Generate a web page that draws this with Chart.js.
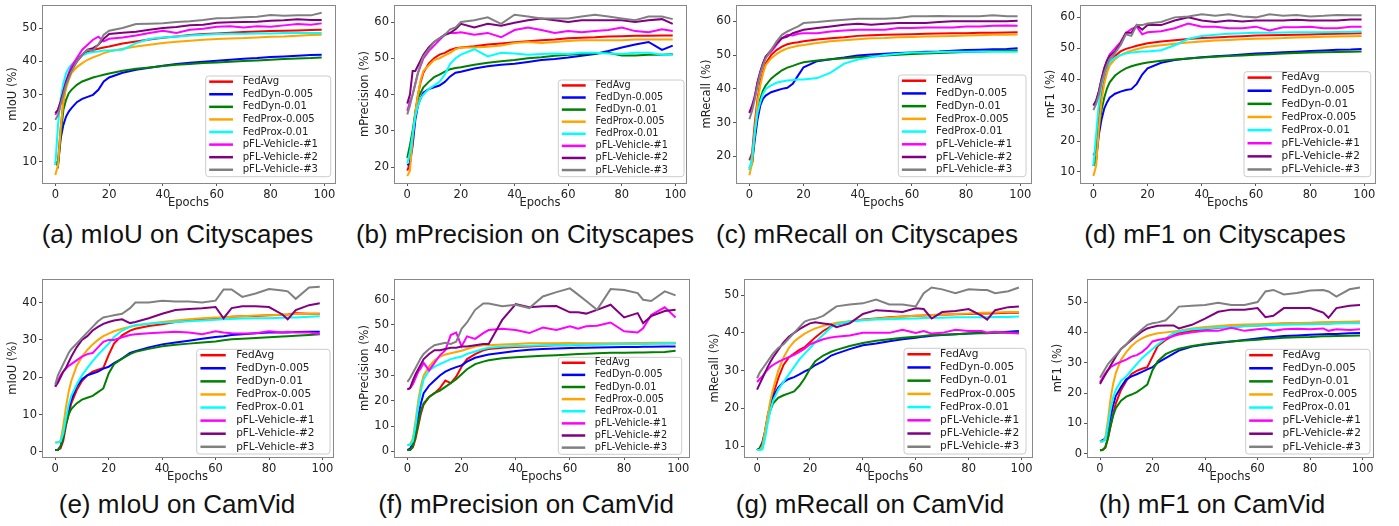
<!DOCTYPE html>
<html>
<head>
<meta charset="utf-8">
<script src="https://cdn.jsdelivr.net/npm/chart.js@4.4.0/dist/chart.umd.min.js"></script>
<style>
body { margin: 0; background: #fff; width: 1399px; height: 526px; overflow: hidden; position: relative; }
canvas { position: absolute; }
.cap { position: absolute; width: 420px; text-align: center; font-family: "Liberation Sans", Arial, sans-serif;
       font-size: 26px; line-height: 30px; color: #111; white-space: nowrap; }
</style>
</head>
<body>
<script>
// ---- data ----
const SERIES = ['FedAvg', 'FedDyn-0.005', 'FedDyn-0.01', 'FedProx-0.005', 'FedProx-0.01',
                'pFL-Vehicle-#1', 'pFL-Vehicle-#2', 'pFL-Vehicle-#3'];

const EPOCHS_CS = [0,1,2,3,4,5,6,8,10,12,14,16,18,20,25,30,35,40,45,50,55,60,65,70,75,80,85,90,95,99];
const EPOCHS_CV = [0,1,2,3,4,5,6,8,10,12,14,16,18,20,22,25,28,30,35,40,45,50,55,60,63,66,70,75,80,85,87,90,95,99];

const X_TICKS = [0, 20, 40, 60, 80, 100];
const Y_TICKS_A = [10, 20, 30, 40, 50];
const Y_TICKS_B = [20, 30, 40, 50, 60];
const Y_TICKS_C = [20, 30, 40, 50, 60];
const Y_TICKS_D = [10, 20, 30, 40, 50, 60];
const Y_TICKS_E = [0, 10, 20, 30, 40];
const Y_TICKS_F = [0, 10, 20, 30, 40, 50, 60];
const Y_TICKS_G = [10, 20, 30, 40, 50];
const Y_TICKS_H = [0, 10, 20, 30, 40, 50];

// (a) mIoU, Cityscapes  (rows follow SERIES)
const MIOU_CS = [
  [9,10,20,28,33,36,38,40,42,43,43.4,43.8,44.2,44.5,45.4,46,46.6,47.1,47.5,47.9,48.2,48.4,48.6,48.8,49,49.1,49.2,49.3,49.4,49.5],
  [10,9,17,21,23.5,25,26,27.8,28.8,29.4,30,31.5,34,35.2,36.6,37.5,38.1,38.7,39.2,39.6,39.9,40.2,40.5,40.8,41,41.3,41.5,41.7,41.9,42],
  [10,8.7,18,25.5,28.5,30.5,31.5,33,34,34.6,35.2,35.6,36,36.4,37.2,37.8,38.2,38.6,39,39.2,39.5,39.7,39.9,40.1,40.3,40.5,40.7,40.9,41,41.2],
  [6,9,20,28,32,34.5,36.5,38.3,39.5,40.5,41.2,41.8,42.5,43,43.8,44.5,45,45.5,45.9,46.2,46.5,46.7,46.9,47,47.2,47.4,47.5,47.7,47.9,48],
  [9,21,29,33.5,36.5,38,39,40.5,41.8,42.5,42.8,43,43.3,43.3,43.5,45.5,46.7,47.2,47.5,47.8,48,48.2,48.3,48.3,48.4,48.4,48.5,48.5,48.5,48.5],
  [24,25.5,28,31,34,36.5,38.5,41,43.5,45,46.5,47.4,46,46.8,47.2,47.8,48.5,49.2,48.5,49.5,49.8,50.4,50.5,50.2,50.5,50.4,50.8,51.2,51,51.4],
  [24.5,25.5,28,31,34,36,37.5,40,42,43.5,44,45,46.8,48.2,48.6,48.9,49.5,50,50.3,50.8,51,51.6,51.7,51.8,51.9,52.2,52.3,52.6,52.4,52.4],
  [22.5,24,27,30,33,35,37,40,42,43.5,43.2,45,48,49.2,50,51.2,51.3,51.4,51.8,52,52.4,52.9,53,53.2,53.4,53.9,53.7,53.8,53.8,54.6]
];

// (b) mPrecision, Cityscapes
const MPREC_CS = [
  [19,21,28,35,40,43.5,46,48.5,50,51,51.5,52.3,52.8,53,53.3,53.8,54.1,54.4,54.7,55,55.2,55.5,55.7,55.8,56,56.1,56.2,56.2,56.3,56.3],
  [20.5,21,26,33,37,39,40.5,41.5,42,42.5,43.5,45,46,46.3,47.2,47.8,48.2,48.5,49,49.5,49.8,50.2,50.7,51.2,52,53,53.8,54.5,52.3,53.5],
  [22.5,26,30,35,39,40.5,42,43.5,44.8,45.5,46.3,47,47.3,47.5,48.2,48.8,49.2,49.5,50,50.3,50.7,51,51.2,51.3,51.5,50.8,50.8,51,51,51.1],
  [17.5,19,28,35,40,44,46.5,48,49.5,50,50.8,51.5,52.5,53,53,53.2,53.5,54.2,54.5,54.2,54.5,54.8,55,55,55,55,55.2,55.2,55.2,55.2],
  [21,24,29,34,37,39,40,41.5,42.5,43.5,45.5,48.5,50,51,52.5,50.5,51.5,51.3,51,51.2,51.3,51.2,51.5,51.5,51.3,51.2,51.5,51.5,51,51],
  [35.5,38,40,43,46,48,50,52,53.5,55,56.5,57,57,57.2,56.5,57,55.8,57.8,58.5,57.8,57,57.5,57.2,57.5,57.8,58.5,57.5,57.2,58,57.5],
  [37.5,40,46.5,46.5,48,49.5,51,53,54.5,55.5,56.5,57,58,59.5,58.5,59.5,59,59.8,60.5,61,60.5,60,60.5,60.5,60.5,60.5,60,60.5,60.8,59.5],
  [34.5,37,40,43,46,48.5,50.5,52.5,54.5,55.5,56.5,58,58.5,60,60.5,61.3,59.5,62,61.5,61,61,61,61.5,62,61.5,61,60.5,61.5,61.5,60.8]
];

// (c) mRecall, Cityscapes
const MREC_CS = [
  [18.8,21,30,37,42,45,47.5,50,51.5,52.5,53.2,53.6,53.8,54.1,54.6,55,55.3,55.7,55.9,56,56.1,56.2,56.3,56.4,56.5,56.5,56.6,56.6,56.7,56.8],
  [16.5,18,25,31,35,37,38,39,39.5,40,40.3,41.5,44,46.4,48.2,48.8,49.3,49.9,50.2,50.4,50.6,50.8,51,51.1,51.3,51.5,51.6,51.7,51.8,52],
  [16,18,27,33,37,39.5,41,43,44.3,45.5,46.3,46.8,47.4,47.9,48.4,48.8,49.1,49.4,49.6,49.9,50.1,50.3,50.5,50.6,50.8,50.9,51,51.2,51.3,51.4],
  [14.4,18,28,36,41,44.5,47,49,50.3,51.3,52,52.4,52.8,53,53.6,54.1,54.4,54.7,55,55.1,55.3,55.4,55.5,55.6,55.7,55.8,55.9,56,56,56.1],
  [16,20,27,33,36,38.5,40,41,41.8,42.2,42.5,42.6,42.8,42.8,43.2,44.8,47.5,48.7,49.4,50,50.4,50.8,50.8,50.9,51,51,51,51,51,51],
  [33,35,38,42,45,47.5,49.5,51,53,55,56,55.8,56.3,56.5,56.5,57,57.3,57.5,57.5,57.5,58,58,58.2,58.2,58.2,58.5,58.5,58.7,58.8,58.7],
  [32.8,35,37.5,42,45,47.5,49.5,51.5,53.5,55,55.5,56.5,57,57.5,58,58.5,59,59.3,59,59.3,59.5,59.5,59.5,59.8,60,60,60,60,60,60.2],
  [31,33.5,37,41,44.5,47,49,51.5,54,56,57,57.8,58.5,59.5,59.8,60.2,60.5,60.8,60.8,60.8,61,61.5,61.5,61.6,61.5,61.5,61.5,61.8,61.5,61.5]
];

// (d) mF1, Cityscapes
const MF1_CS = [
  [15.4,17,27,35,40,43.5,45.5,47.5,49,49.8,50.3,50.8,51.2,51.6,52.2,52.6,53,53.3,53.5,53.7,53.9,54.1,54.2,54.3,54.4,54.5,54.6,54.7,54.8,54.9],
  [12,14,22,27,30.5,32.5,34,35.3,36,36.5,36.8,38.5,41.5,43.5,45.3,46.2,46.7,47.1,47.4,47.7,48,48.3,48.5,48.7,48.9,49.1,49.3,49.5,49.6,49.8],
  [12,14,24,30,34,37,39,41.2,42.5,43.5,44.2,44.7,45.1,45.4,46,46.4,46.7,47,47.3,47.5,47.7,47.9,48.1,48.3,48.5,48.6,48.7,48.8,48.9,49],
  [8.7,12,24,33,38.5,42,44.5,46.5,47.8,48.6,49.2,49.7,50.2,50.5,51,51.5,51.9,52.2,52.5,52.7,52.9,53.1,53.2,53.3,53.5,53.6,53.7,53.8,53.9,54],
  [12,22,32,38,41.5,44,45.5,47,47.8,48.3,48.6,48.8,49,49,49.4,51,53,54,54.4,54.7,54.9,55,55,55.1,55.2,55.2,55.2,55.3,55.3,55.4],
  [31.5,33,36,40,43.5,46,48,50,52,55,56.2,57,54.5,55.2,55.5,56.5,58,57,57,56.5,56.5,57,55.8,56.8,56.8,57,56.5,56.5,57,57],
  [31.5,33,36,40,43.5,46,47.5,49,51.5,55,55,57.5,56,57.5,57.5,59,60,59,58.5,59,58.7,59,59,59,59.2,59,59,59,59.3,59.3],
  [30,32,35,39,42,44.5,46.5,48.5,51,54.5,54,57.5,57.5,58,58.5,60,60.3,61,60.5,61,60.3,60,61,60.5,60.8,60.3,60.5,60.8,60.7,60.7]
];

// (e) mIoU, CamVid
const MIOU_CV = [
  [0.5,0.6,1,3,7,10,13,16.5,19,20.5,21.5,22,22.5,26,29,31.2,32.5,33,33.7,34.2,34.8,35.2,35.6,35.8,36,36.2,36.3,36.4,36.6,36.7,36.8,37.1,37,37],
  [0.5,0.5,1.5,4,8,11.5,14,17.5,19.5,20.5,21,21.5,22.3,22.8,23.8,25,26.5,27,28,28.8,29.3,29.8,30.3,30.8,31,31.3,31.5,31.8,32,32,32,32.1,32.2,32.2],
  [0.5,0.5,1.5,4,7.5,10,11.5,13,14,14.5,15,16,17,21,23.5,25,26.2,26.8,27.6,28.3,28.7,29,29.3,29.6,29.9,30.2,30.3,30.5,30.7,30.9,31,31.1,31.3,31.5],
  [2.5,2.6,3,7,12,16,19,23,25.5,27.3,28.8,30,31,31.7,32.3,33,33.5,33.8,34.3,34.8,35.2,35.5,35.8,36,36,36.2,36.3,36.5,36.6,36.7,36.8,36.9,37,37],
  [2.5,2.5,2.8,5,9,12.5,15,18,20.5,22.5,24.3,26,27.5,29,30.8,32.5,33.5,34,34.3,34.6,34.8,35,35.2,35.4,35.5,35.6,35.7,35.8,35.8,35.9,36,36,36.2,36.3],
  [17.5,19,20.5,21.5,22.3,23,23.5,24.5,25.5,26.2,26.5,28,29.5,30,30,30.7,31.3,31.5,31.8,32,32.2,32,31.5,32.3,32,31.8,31.7,31.8,32.3,32,32.2,32,32,31.6],
  [17.5,18.5,20,21.5,22.5,24,25.5,28,30,31,32.5,33.5,34.3,34.8,35.2,35.5,34.5,34.8,35.8,37,38,38.3,38.5,38.8,35.8,38.5,39,39,38.8,36.8,35.5,38,39.3,39.8],
  [18,20.5,22,23.5,25,26.5,27.5,29,30.5,32,33.5,35,36,36.3,36.6,37,38.5,40,40,40.5,40.3,40.3,40,40.5,43.5,43.5,41.5,42.4,43.6,43.2,43,41,44,44.2]
];

// (f) mPrecision, CamVid
const MPREC_CV = [
  [0.5,0.6,1.5,5,10,15,18.5,21.5,23,25,28,27,29.5,33.5,36.5,38.5,40,40.5,41,41.3,41.5,41.8,42,42,42.2,42.3,42.4,42.5,42.6,42.7,42.7,42.8,42.8,42.8],
  [0.5,1,3,8,14,19,23,26,28,30,31.5,32.5,33.3,34,35.5,37,37.8,38.3,39,39.7,40.2,40.5,40.7,40.9,41,41,41.1,41.2,41.3,41.3,41.4,41.4,41.5,41.5],
  [0.5,0.5,2,6,11,16,19,21.5,23,24,25.5,27,28.5,30.5,32.5,34.5,35.5,36,36.8,37.2,37.5,37.8,38,38.3,38.5,38.6,38.8,39,39,39.1,39.1,39.2,39.3,39.8],
  [2.5,2.8,5,12,20,26,30,33.5,36,37.5,38.3,38.8,39.3,39.8,40.5,41.5,42,42,42.3,42.5,42.8,42.8,42.8,42.9,42.8,42.8,42.8,42.8,42.8,42.9,42.9,43,43,43],
  [2.5,2.5,4,10,18,24,28.5,32,33.5,34.5,35.5,36.5,37,37.5,38.5,39.5,40.5,41,41.5,41.7,41.8,42,42,42.1,42.2,42.2,42.3,42.4,42.5,42.5,42.5,42.6,42.7,42.8],
  [24.5,25,26.5,29,31.5,33,35,32,35,38,40,46,47,41.5,45.5,44.5,46.8,48,48.5,48,46.8,49,48,49.5,48.5,49.5,49.7,51,47.5,47,48.7,54,57,53],
  [24.5,25,28,30.5,32.5,34.5,36.5,38.5,40,40,40.5,41,41,41.5,41.5,42,42.5,42.5,52,58.3,57,57.4,57.5,55,55,54.5,56,58,53,54.7,50.7,53.5,55.5,56],
  [27.5,29,31,33,35,37,38.5,40.5,42,42.5,43,42.5,43.4,48.5,51,56,58.5,58.5,57.4,58,56.7,61.3,63,64.5,62,59.5,56,64.2,63.8,62.6,60,59.5,63.3,61.7]
];

// (g) mRecall, CamVid
const MREC_CV = [
  [9,9,9.5,13,17,20.5,23.5,28,31.5,33.5,34.5,35.5,36.2,37.5,38.8,40.5,41.7,42.3,43,43.5,43.8,44.1,44.3,44.5,44.6,44.7,44.8,44.9,45,45.1,45.1,45.2,45.3,45.3],
  [9,9.5,11,14,18,21,23,25.5,27,27.8,28.3,29,29.8,30.5,31.5,32.5,34,34.5,35.7,36.7,37.2,37.8,38.3,38.7,39,39.2,39.4,39.6,39.8,40,40,40.1,40.3,40.5],
  [9,9.5,10.5,13.5,17,19.5,21.3,22.8,23.5,24,24.5,26,28,30.5,32.5,34,35,35.5,36.5,37.3,37.9,38.3,38.7,39,39.2,39.4,39.5,39.6,39.8,39.9,39.9,40,40,40.1],
  [9,9,10,14,18,22,25,30,33.5,36,37.7,38.8,39.8,40.5,41.2,41.8,42.3,42.7,43.1,43.4,43.7,44,44.3,44.5,44.6,44.7,44.8,45,45.1,45.3,45.3,45.4,45.5,45.5],
  [9,9,9.2,12,16,19.5,22,25,27,29,31,33,34.5,36,37.5,39.5,41.5,42.3,43,43.3,43.5,43.6,43.7,43.8,43.9,44,44,44.1,44.1,44.1,44.1,44.2,44.2,44.3],
  [27,27.8,28.5,29.5,30.3,31,31.5,32.3,33,33.6,34.2,35,35.8,37,37.5,38.3,38.8,39,39.3,40,40,40,40.8,40,40.5,39.8,40,40.8,40.5,40.5,40,40.3,40,39.8],
  [25,26.5,28,29.5,31,32.3,33.5,35.5,37.5,39,40,41,41.8,42.5,42.8,42.5,42.2,41.5,42.5,45,46,45.8,45.5,46.5,46.3,43.8,45.5,45.8,46.3,44.5,43.5,46,46.8,47],
  [28,29.5,30.5,31.5,32.5,33.5,34.5,36,37,38.5,40,41.5,43,43.5,43.7,44.5,46,47,47.5,47.8,48.8,47.5,47.5,47,50.5,52,51.5,50.5,51.5,51.3,51.3,50.5,51,52]
];

// (h) mF1, CamVid
const MF1_CV = [
  [1.2,1.3,2,5,9,13,16.5,21,24,26.3,27.3,28,28.5,32,35.5,37.5,39,39.8,40.5,41,41.5,41.8,42.1,42.3,42.5,42.7,42.9,43,43.1,43.2,43.2,43.4,43.4,43.5],
  [4,4.5,5,8,12,16,19,22,24.5,25.5,26.2,27,27.8,28.5,30,31.5,33,34,35.3,36,36.5,37,37.5,38,38.3,38.5,38.8,39,39.2,39.4,39.5,39.5,39.7,39.8],
  [1,1.2,2,5,9,12.5,15,17.5,18.8,19.5,20.3,21.5,22.8,27.5,30.5,32.8,34,34.6,35.5,36.2,36.7,37,37.3,37.6,37.8,38,38.2,38.4,38.5,38.7,38.7,38.8,38.9,39],
  [4,4,5,11,18,23,26.5,31,33.5,35.5,37,38,38.8,39.3,39.7,40,40.3,40.5,41.3,41.8,42.1,42.4,42.6,42.7,42.8,42.9,43,43.1,43.2,43.3,43.3,43.4,43.5,43.5],
  [4,4,4.5,9,14.5,18.5,21,24,25.5,27.5,29.5,31.5,33,34.5,36,38,39.8,40.3,41,41.3,41.6,41.8,42,42.2,42.3,42.4,42.5,42.6,42.7,42.8,42.8,42.9,43,43],
  [23.5,25,26.5,27.5,28.5,29,29.5,30.3,31,32,32.5,33.5,35,37,37.5,38,38.8,39.3,40,40.5,40.5,41.5,40.5,41,41.3,40.5,41,41.2,41,41.3,40.5,41,40.8,41],
  [23,24.5,26,27.5,29,30.5,32,34.5,36,37.5,39,40.3,41.3,41.8,42.2,42.3,42.3,41.3,42.5,44.5,46.8,47.5,47.5,48,45,45.5,48,48,48,46.5,44.8,48,48.8,49],
  [25,26.5,28,29.5,30.5,31.5,32.5,34.5,36,38,39.5,41,42.5,43,43.3,44,46.5,48.5,48.8,49,49.8,49,49,50,53.5,54,52.5,53,53.8,54,53.5,51.8,54.2,54.8]
];

// ---- styles / layout ----
const COLORS = ['#ff0000', '#0000ff', '#008000', '#ffa500', '#00ffff', '#ff00ff', '#800080', '#808080'];
const AXIS_W = 36, AXIS_H = 27;
const PAD = { l: 2, r: 12, t: 10, b: 2 };

Chart.defaults.font.family = "'DejaVu Sans', sans-serif";
Chart.defaults.font.size = 11.5;
Chart.defaults.color = '#222';

const PANELS = [
  { rows: MIOU_CS,  epochs: EPOCHS_CS, yTitle: 'mIoU (%)',       yTicks: Y_TICKS_A, yRange: [3.6, 56.9],   box: [42, 5, 335, 183],    legend: [205.7, 76, 125, 100.7],    caption: '(a) mIoU on Cityscapes',       cap: [177.5, 234] },
  { rows: MPREC_CS, epochs: EPOCHS_CS, yTitle: 'mPrecision (%)', yTicks: Y_TICKS_B, yRange: [15.6, 64.7],  box: [394, 5, 686, 183],   legend: [558.3, 80, 125.7, 96.7],   caption: '(b) mPrecision on Cityscapes', cap: [525, 234] },
  { rows: MREC_CS,  epochs: EPOCHS_CS, yTitle: 'mRecall (%)',    yTicks: Y_TICKS_C, yRange: [12.1, 64.85], box: [736, 5, 1031, 183],  legend: [898.3, 75, 127.7, 101.7],  caption: '(c) mRecall on Cityscapes',    cap: [867, 234] },
  { rows: MF1_CS,   epochs: EPOCHS_CS, yTitle: 'mF1 (%)',        yTicks: Y_TICKS_D, yRange: [6.44, 64],    box: [1080, 5, 1375, 183], legend: [1244, 71.7, 126.7, 105],   caption: '(d) mF1 on Cityscapes',        cap: [1215, 234] },
  { rows: MIOU_CV,  epochs: EPOCHS_CV, yTitle: 'mIoU (%)',       yTicks: Y_TICKS_E, yRange: [-1.35, 46.3], box: [42, 279, 333, 457],  legend: [196.7, 349.3, 133.3, 104.7], caption: '(e) mIoU on CamVid',        cap: [177, 504] },
  { rows: MPREC_CV, epochs: EPOCHS_CV, yTitle: 'mPrecision (%)', yTicks: Y_TICKS_F, yRange: [-2.26, 68.2], box: [394, 279, 689, 457], legend: [558.3, 357.3, 123.4, 97],  caption: '(f) mPrecision on CamVid',      cap: [526, 504] },
  { rows: MREC_CV,  epochs: EPOCHS_CV, yTitle: 'mRecall (%)',    yTicks: Y_TICKS_G, yRange: [7.17, 54.24], box: [744, 279, 1032, 457], legend: [904, 348.3, 122, 105.7],  caption: '(g) mRecall on CamVid',         cap: [870, 504] },
  { rows: MF1_CV,   epochs: EPOCHS_CV, yTitle: 'mF1 (%)',        yTicks: Y_TICKS_H, yRange: [-1.1, 57.6],  box: [1087, 279, 1373, 457], legend: [1245.7, 349.3, 124.3, 104.7], caption: '(h) mF1 on CamVid',     cap: [1212, 504] }
];

// full axes frame, like matplotlib spines
const frame = {
  id: 'frame',
  afterDatasetsDraw(chart) {
    const { ctx, chartArea: a } = chart;
    ctx.save();
    ctx.strokeStyle = '#888';
    ctx.lineWidth = 1;
    ctx.strokeRect(Math.round(a.left) + 0.5, Math.round(a.top) + 0.5,
                   Math.round(a.right - a.left), Math.round(a.bottom - a.top));
    ctx.restore();
  }
};

// legend inside the axes, lower right
const boxLegend = {
  id: 'boxLegend',
  afterDraw(chart, args, opts) {
    const { ctx } = chart;
    const [x, y, w, h] = opts.rect;
    const fs = h / 10;
    const row = h / 8;
    ctx.save();
    ctx.beginPath();
    ctx.roundRect(x, y, w, h, 3);
    ctx.fillStyle = 'rgba(255,255,255,0.8)';
    ctx.fill();
    ctx.strokeStyle = '#cccccc';
    ctx.lineWidth = 1;
    ctx.stroke();
    chart.data.datasets.forEach((ds, i) => {
      const cy = y + row * (i + 0.45);
      ctx.beginPath();
      ctx.moveTo(x + 0.028 * w, cy);
      ctx.lineTo(x + 0.218 * w, cy);
      ctx.strokeStyle = ds.borderColor;
      ctx.lineWidth = 2.5;
      ctx.stroke();
      ctx.fillStyle = '#222';
      ctx.font = fs.toFixed(1) + "px 'DejaVu Sans'";
      ctx.textBaseline = 'middle';
      ctx.textAlign = 'left';
      ctx.fillText(ds.label, x + 0.296 * w, cy);
    });
    ctx.restore();
  }
};

PANELS.forEach(p => {
  const [l, t, r, b] = p.box;
  const cl = l - AXIS_W - PAD.l, ct = t - PAD.t;
  const cv = document.createElement('canvas');
  cv.width = (r - l) + AXIS_W + PAD.l + PAD.r;
  cv.height = (b - t) + AXIS_H + PAD.t + PAD.b;
  cv.style.left = cl + 'px';
  cv.style.top = ct + 'px';
  document.body.appendChild(cv);

  const datasets = p.rows.map((vals, i) => ({
    label: SERIES[i],
    data: p.epochs.map((e, k) => ({ x: e, y: vals[k] })),
    borderColor: COLORS[i],
    borderWidth: 2,
    pointRadius: 0,
    tension: 0,
    order: SERIES.length - 1 - i
  }));

  new Chart(cv, {
    type: 'line',
    data: { datasets },
    options: {
      responsive: false,
      animation: false,
      layout: { padding: { left: PAD.l, right: PAD.r, top: PAD.t, bottom: PAD.b } },
      plugins: {
        legend: { display: false },
        tooltip: { enabled: false },
        boxLegend: { rect: [p.legend[0] - cl, p.legend[1] - ct, p.legend[2], p.legend[3]] }
      },
      scales: {
        x: {
          type: 'linear',
          min: -4.95, max: 103.95,
          afterBuildTicks: s => { s.ticks = X_TICKS.map(v => ({ value: v })); },
          afterFit: s => { s.height = AXIS_H; },
          ticks: { padding: 2, maxRotation: 0, autoSkip: false, color: '#222' },
          grid: { display: true, drawOnChartArea: false, drawTicks: true, tickLength: 3, color: '#555' },
          border: { display: false },
          title: { display: true, text: 'Epochs', padding: 0, color: '#222' }
        },
        y: {
          type: 'linear',
          min: p.yRange[0], max: p.yRange[1],
          afterBuildTicks: s => { s.ticks = p.yTicks.map(v => ({ value: v })); },
          afterFit: s => { s.width = AXIS_W; },
          ticks: { padding: 2, color: '#222' },
          grid: { display: true, drawOnChartArea: false, drawTicks: true, tickLength: 3, color: '#555' },
          border: { display: false },
          title: { display: true, text: p.yTitle, padding: 0, color: '#222' }
        }
      }
    },
    plugins: [frame, boxLegend]
  });

  const cap = document.createElement('div');
  cap.className = 'cap';
  cap.textContent = p.caption;
  cap.style.left = (p.cap[0] - 210) + 'px';
  cap.style.top = (p.cap[1] - 15) + 'px';
  document.body.appendChild(cap);
});
</script>
</body>
</html>
